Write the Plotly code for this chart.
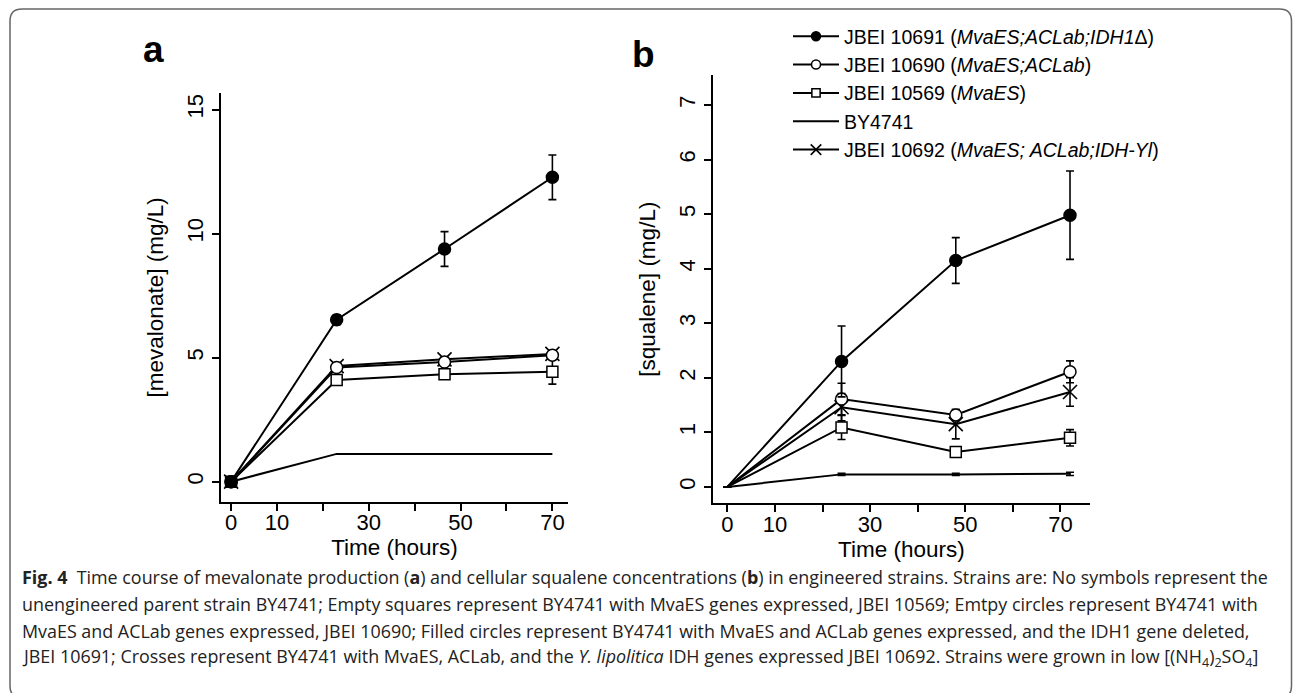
import plotly.graph_objects as go

W, H = 1293, 693

# ---------------- data ----------------
strains = ["JBEI 10691", "JBEI 10690", "JBEI 10569", "BY4741", "JBEI 10692"]
legend_labels = [
    "JBEI 10691 (<i>MvaES;ACLab;IDH1</i>Δ)",
    "JBEI 10690 (<i>MvaES;ACLab</i>)",
    "JBEI 10569 (<i>MvaES</i>)",
    "BY4741",
    "JBEI 10692 (<i>MvaES; ACLab;IDH-Yl</i>)",
]

time_a = [0, 23, 46.5, 70]
mev_10691 = [0, 6.53, 9.38, 12.27]
mev_10691_err = [0, 0.2, 0.7, 0.9]
mev_10690 = [0, 4.60, 4.82, 5.10]
mev_10690_err = [0, 0.1, 0.1, 0.12]
mev_10569 = [0, 4.10, 4.33, 4.43]
mev_10569_err = [0, 0.1, 0.15, 0.5]
mev_BY4741 = [0, 1.12, 1.12, 1.12]
mev_BY4741_err = [0, 0, 0, 0]
mev_10692 = [0, 4.66, 4.93, 5.15]
mev_10692_err = [0, 0.1, 0.1, 0.1]

time_b = [0, 24, 48, 72]
sq_10691 = [0, 2.30, 4.15, 4.98]
sq_10691_err = [0, 0.65, 0.42, 0.81]
sq_10690 = [0, 1.61, 1.32, 2.11]
sq_10690_err = [0, 0.29, 0.10, 0.20]
sq_10569 = [0, 1.09, 0.64, 0.90]
sq_10569_err = [0, 0.22, 0.07, 0.15]
sq_BY4741 = [0, 0.23, 0.23, 0.24]
sq_BY4741_err = [0, 0.02, 0.02, 0.03]
sq_10692 = [0, 1.46, 1.15, 1.74]
sq_10692_err = [0, 0.25, 0.27, 0.26]

x_tickvals = [0, 10, 30, 50, 70]
x_minor_tickvals = [20, 40, 60]
ya_tickvals = [0, 5, 10, 15]
yb_tickvals = [0, 1, 2, 3, 4, 5, 6, 7]

caption_lines = [
    "<b>Fig. 4</b>  Time course of mevalonate production (<b>a</b>) and cellular squalene concentrations (<b>b</b>) in engineered strains. Strains are: No symbols represent the",
    "unengineered parent strain BY4741; Empty squares represent BY4741 with MvaES genes expressed, JBEI 10569; Emtpy circles represent BY4741 with",
    "MvaES and ACLab genes expressed, JBEI 10690; Filled circles represent BY4741 with MvaES and ACLab genes expressed, and the IDH1 gene deleted,",
    "JBEI 10691; Crosses represent BY4741 with MvaES, ACLab, and the <i>Y. lipolitica</i> IDH genes expressed JBEI 10692. Strains were grown in low [(NH<sub>4</sub>)<sub>2</sub>SO<sub>4</sub>]",
]

# ---------------- helpers ----------------
def px(x):
    return x / W

def py(y):
    return 1 - y / H

markers = {
    "JBEI 10691": dict(symbol="circle", size=12, color="black", line=dict(color="black", width=1.5)),
    "JBEI 10690": dict(symbol="circle", size=12, color="white", line=dict(color="black", width=1.5)),
    "JBEI 10569": dict(symbol="square", size=11, color="white", line=dict(color="black", width=1.5)),
    "BY4741": None,
    "JBEI 10692": dict(symbol="x-thin-open", size=14, color="black", line=dict(color="black", width=1.6)),
}

series_a = [mev_10691, mev_10690, mev_10569, mev_BY4741, mev_10692]
errs_a = [mev_10691_err, mev_10690_err, mev_10569_err, mev_BY4741_err, mev_10692_err]
series_b = [sq_10691, sq_10690, sq_10569, sq_BY4741, sq_10692]
errs_b = [sq_10691_err, sq_10690_err, sq_10569_err, sq_BY4741_err, sq_10692_err]

fig = go.Figure()

order = [3, 2, 4, 1, 0]
for panel, (t, series, errs, xa, ya) in enumerate([
    (time_a, series_a, errs_a, "x", "y"),
    (time_b, series_b, errs_b, "x2", "y2"),
]):
    for i in order:
        name = strains[i]
        m = markers[name]
        tr = dict(
            x=t, y=series[i], xaxis=xa, yaxis=ya,
            name=legend_labels[i], legendgroup=name, legendrank=i + 1,
            showlegend=(panel == 1),
            line=dict(color="black", width=2),
            cliponaxis=False,
            hoverinfo="skip",
        )
        if any(e > 0 for e in errs[i]):
            tr["error_y"] = dict(type="data", array=errs[i], color="black", thickness=1.6, width=4)
        if m is None:
            tr["mode"] = "lines"
        else:
            mk = dict(m)
            mk["opacity"] = 1
            if panel == 1:
                mk["size"] = [0] + [m["size"]] * (len(t) - 1)
            tr["mode"] = "lines+markers"
            tr["marker"] = mk
        fig.add_trace(go.Scatter(**tr))

tick_font = dict(family="Liberation Sans, Arial, sans-serif", size=22, color="black")
title_font = dict(family="Liberation Sans, Arial, sans-serif", size=22.5, color="black")
common_x = dict(
    showline=True, linecolor="black", linewidth=2, mirror=False,
    ticks="outside", ticklen=7, tickwidth=1.5, tickcolor="black",
    tickvals=x_tickvals, tickfont=tick_font, ticklabelstandoff=-7,
    minor=dict(tickvals=x_minor_tickvals, ticks="outside", ticklen=7, tickwidth=1.5, tickcolor="black", showgrid=False),
    showgrid=False, zeroline=False,
    title=dict(text="Time (hours)", font=title_font, standoff=2),
)
common_y = dict(
    showline=True, linecolor="black", linewidth=2, mirror=False,
    ticks="outside", ticklen=7, tickwidth=1.5, tickcolor="black",
    tickfont=tick_font, tickangle=-90,
    showgrid=False, zeroline=False,
)

fig.update_layout(
    width=W, height=H,
    margin=dict(l=0, r=0, t=0, b=0),
    paper_bgcolor="white", plot_bgcolor="white",
    font=dict(family="Liberation Sans, Arial, sans-serif", color="black"),
    xaxis=dict(domain=[px(221), px(568)], range=[-2.2, 73.4], anchor="y", **common_x),
    yaxis=dict(domain=[py(502), py(92.7)], range=[-0.82, 15.68], anchor="x",
               tickvals=ya_tickvals,
               title=dict(text="[mevalonate] (mg/L)", font=title_font, standoff=13),
               **common_y),
    xaxis2=dict(domain=[px(712.7), px(1090)], range=[-3.07, 76.2], anchor="y2", **common_x),
    yaxis2=dict(domain=[py(503.3), py(75)], range=[-0.30, 7.55], anchor="x2",
                tickvals=yb_tickvals,
                title=dict(text="[squalene] (mg/L)", font=title_font, standoff=13),
                **common_y),
    legend=dict(
        x=px(788), y=py(17), xanchor="left", yanchor="top",
        font=dict(family="Liberation Sans, Arial, sans-serif", size=19.5, color="black"),
        bgcolor="rgba(0,0,0,0)", traceorder="grouped", tracegroupgap=0,
        itemwidth=46,
    ),
    showlegend=True,
)

# panel letters
for txt, x, y in [("a", 153, 49), ("b", 643, 55)]:
    fig.add_annotation(text=f"<b>{txt}</b>", x=px(x), y=py(y), xref="paper", yref="paper",
                       showarrow=False, xanchor="center", yanchor="middle",
                       font=dict(family="Liberation Sans, Arial, sans-serif", size=37, color="black"))

# caption
for k, (line, yy) in enumerate(zip(caption_lines, [577, 604, 630.5, 657])):
    fig.add_annotation(text=line, x=px(20), y=py(yy), xref="paper", yref="paper",
                       showarrow=False, xanchor="left", yanchor="middle", align="left",
                       font=dict(family="Open Sans, Noto Sans, sans-serif", size=17.9, color="#222"))

# rounded frame
r = 12
L, T, R, B = 10, 9, 1291.5, 698
pts = (f"M {px(L)},{py(B - r)} L {px(L)},{py(T + r)} Q {px(L)},{py(T)} {px(L + r)},{py(T)} "
       f"L {px(R - r)},{py(T)} Q {px(R)},{py(T)} {px(R)},{py(T + r)} L {px(R)},{py(B - r)} "
       f"Q {px(R)},{py(B)} {px(R - r)},{py(B)} L {px(L + r)},{py(B)} Q {px(L)},{py(B)} {px(L)},{py(B - r)} Z")
fig.add_shape(type="path", path=pts, xref="paper", yref="paper",
              line=dict(color="#666666", width=1.5), fillcolor="rgba(0,0,0,0)", layer="below")

fig.write_html("out.html", config={"displayModeBar": False},
               post_script="document.body.style.margin='0';document.body.style.overflow='hidden';")
